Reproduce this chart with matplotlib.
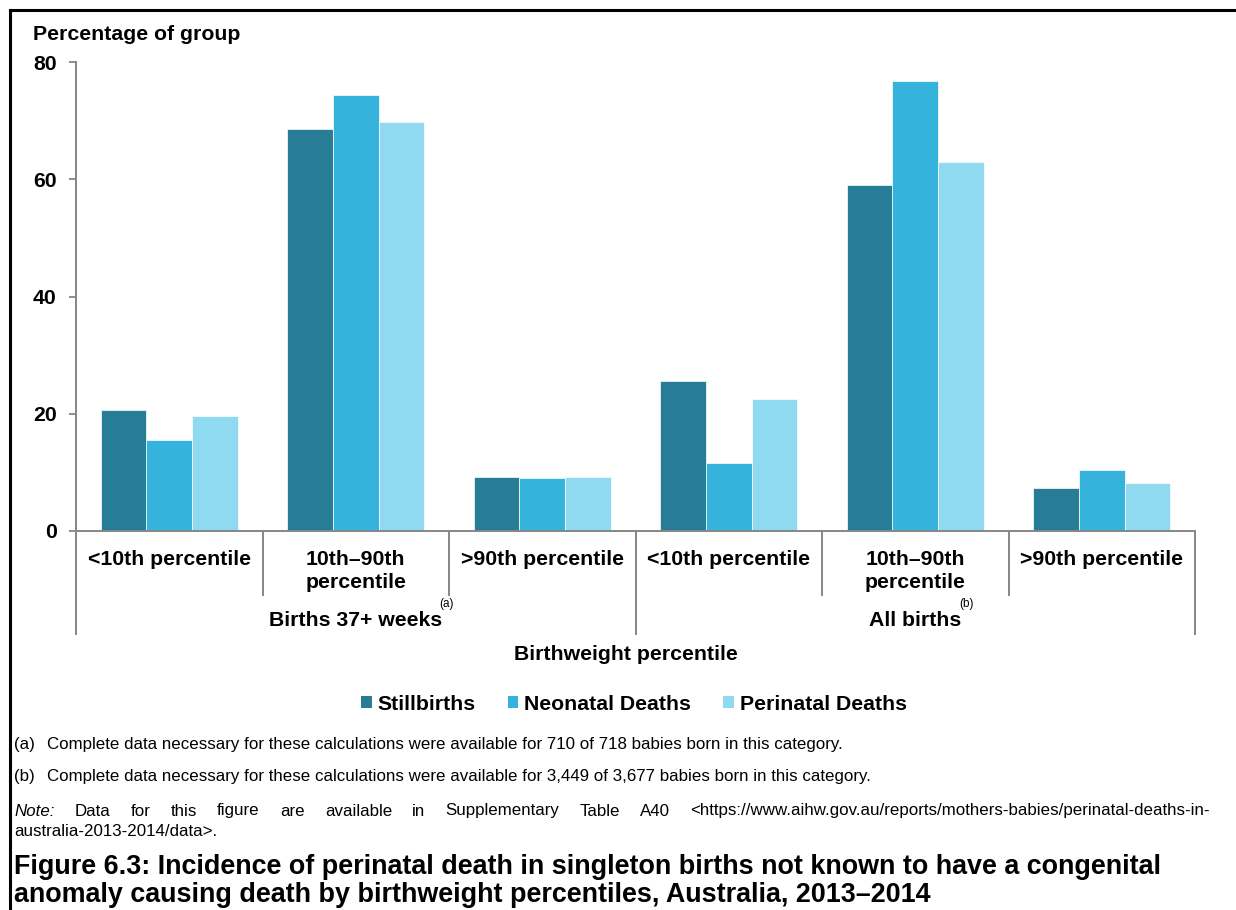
import matplotlib.pyplot as plt
from matplotlib.patches import Patch
from matplotlib.lines import Line2D
import numpy as np

plt.rcParams['font.family'] = ['Liberation Sans', 'DejaVu Sans']

categories = ["<10th percentile", "10th\u201390th\npercentile", ">90th percentile"] * 2
groups = ["Births 37+ weeks", "All births"]
group_notes = ["(a)", "(b)"]
series_names = ["Stillbirths", "Neonatal Deaths", "Perinatal Deaths"]
stillbirths = [20.6, 68.6, 9.2, 25.6, 59.0, 7.4]
neonatal = [15.5, 74.3, 9.0, 11.6, 76.8, 10.4]
perinatal = [19.6, 69.7, 9.2, 22.5, 63.0, 8.2]
yticks = [0, 20, 40, 60, 80]
colors = ["#287D96", "#35B3DC", "#8FD9F1"]
gray = "#868686"

note_a = "Complete data necessary for these calculations were available for 710 of 718 babies born in this category."
note_b = "Complete data necessary for these calculations were available for 3,449 of 3,677 babies born in this category."
note_src = "Data for this figure are available in Supplementary Table A40 <https://www.aihw.gov.au/reports/mothers-babies/perinatal-deaths-in-"
note_src2 = "australia-2013-2014/data>."
title1 = "Figure 6.3: Incidence of perinatal death in singleton births not known to have a congenital"
title2 = "anomaly causing death by birthweight percentiles, Australia, 2013\u20132014"

W, H = 1236, 910
def fx(px):
    return px / W
def fy(py):
    return 1 - py / H

fig = plt.figure(figsize=(W / 100, H / 100), dpi=100)
ax = fig.add_axes([fx(76), fy(531), fx(1195) - fx(76), (531 - 62) / H])

x = np.arange(len(categories))
bw = 0.245
for k, (vals, name, c) in enumerate(zip([stillbirths, neonatal, perinatal], series_names, colors)):
    ax.bar(x + (k - 1) * bw, vals, bw, color=c, edgecolor="white", linewidth=0.5, label=name)

ax.set_xlim(-0.5, 5.5)
ax.set_ylim(0, 80)
ax.set_yticks(yticks)
ax.set_xticks([])
ax.tick_params(axis="y", length=5, width=1.3, color=gray, pad=9, labelsize=15.3)
for lbl in ax.get_yticklabels():
    lbl.set_fontweight("bold")
for s in ["top", "right"]:
    ax.spines[s].set_visible(False)
for s in ["left", "bottom"]:
    ax.spines[s].set_color(gray)
    ax.spines[s].set_linewidth(1.4)

# category labels and divider lines under the axis
xt = ax.get_xaxis_transform()
for i, lab in enumerate(categories):
    ax.text(i, -0.04, lab, transform=xt, ha="center", va="top", fontsize=15.3,
            fontweight="bold", linespacing=1.25)
for xb in np.arange(-0.5, 6, 1.0):
    depth = -0.22 if xb in (-0.5, 2.5, 5.5) else -0.136
    ax.add_line(Line2D([xb, xb], [0, depth], transform=xt, clip_on=False, color=gray, lw=1.4))

for g, name in enumerate(groups):
    ax.text(1 + 3 * g, -0.19, name, transform=xt, ha="center", va="center",
            fontsize=15.3, fontweight="bold")
fig.text(fx(447), fy(604), group_notes[0], fontsize=8.5, ha="center", va="center")
fig.text(fx(967), fy(604), group_notes[1], fontsize=8.5, ha="center", va="center")

fig.text(fx(626), fy(655), "Birthweight percentile", ha="center", va="center",
         fontsize=15.3, fontweight="bold")
fig.text(fx(33), fy(35), "Percentage of group", ha="left", va="center",
         fontsize=15.3, fontweight="bold")

handles = [Patch(facecolor=c, label=n) for c, n in zip(colors, series_names)]
fig.legend(handles=handles, loc="center", bbox_to_anchor=(fx(634), fy(704)), ncol=3,
           frameon=False, prop={"size": 15.3, "weight": "bold"}, handlelength=0.5,
           handleheight=0.5, handletextpad=0.28, columnspacing=1.5)

fs = 12.15
fig.text(fx(14), fy(745), "(a)", fontsize=fs, va="center")
fig.text(fx(47), fy(745), note_a, fontsize=fs, va="center")
fig.text(fx(14), fy(777), "(b)", fontsize=fs, va="center")
fig.text(fx(47), fy(777), note_b, fontsize=fs, va="center")

# justified note line: spread the words between x=14 and x=1210
renderer = fig.canvas.get_renderer()
words = ["Note:"] + note_src.split(" ")
items = []
for j, w in enumerate(words):
    t = fig.text(0, fy(811), w, fontsize=fs, va="center", style="italic" if j == 0 else "normal")
    items.append((t, t.get_window_extent(renderer).width))
gap = (1210 - 14 - sum(wd for _, wd in items)) / (len(items) - 1)
xpos = 14
for t, wd in items:
    t.set_x(fx(xpos))
    xpos += wd + gap
fig.text(fx(14), fy(832), note_src2, fontsize=fs, va="center")

fig.text(fx(14), fy(867), title1, fontsize=19.4, fontweight="bold", va="center")
fig.text(fx(14), fy(895), title2, fontsize=19.4, fontweight="bold", va="center")

# frame (left and top edges visible)
fig.add_artist(Line2D([fx(10), fx(10)], [0, fy(10)], transform=fig.transFigure, color="black", lw=2.2))
fig.add_artist(Line2D([fx(10), 1], [fy(10), fy(10)], transform=fig.transFigure, color="black", lw=2.2))

fig.savefig("out.png", dpi=100)
